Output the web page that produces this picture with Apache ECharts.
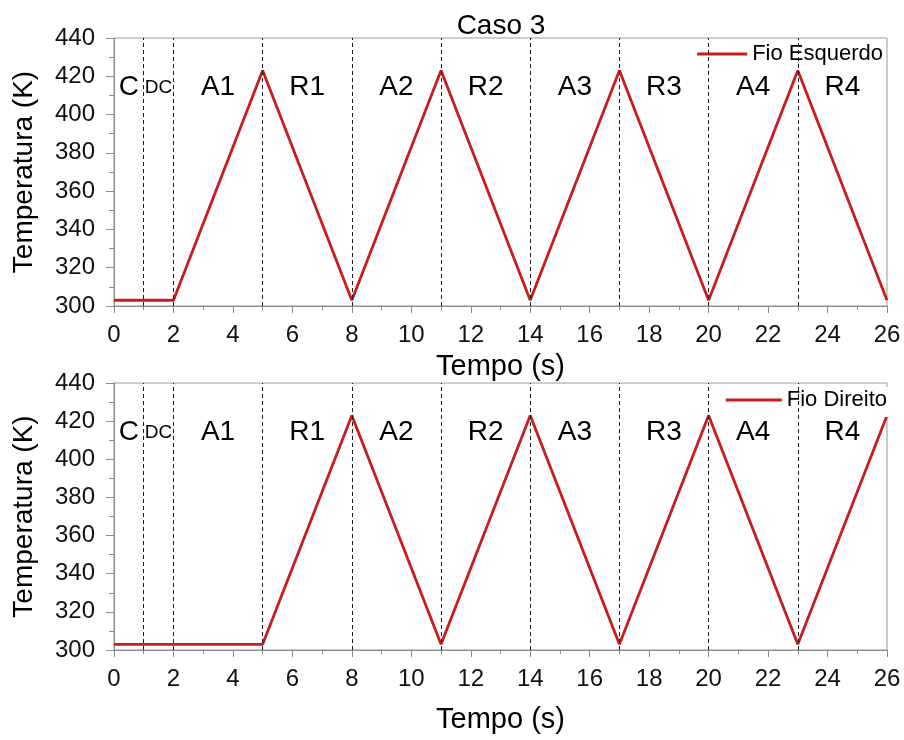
<!DOCTYPE html>
<html>
<head>
<meta charset="utf-8">
<script src="https://cdn.jsdelivr.net/npm/echarts@6/dist/echarts.min.js"></script>
<style>
  html, body { margin: 0; padding: 0; background: #fff; }
  #chart { width: 904px; height: 740px; }
</style>
</head>
<body>
<div id="chart"></div>
<script>
// Wire temperature cycles, case 3 (time in s, temperature in K)
const leftTime  = [0, 2, 5, 8, 11, 14, 17, 20, 23, 26];
const leftTemp  = [303, 303, 423, 303, 423, 303, 423, 303, 423, 303];
const rightTime = [0, 5, 8, 11, 14, 17, 20, 23, 26];
const rightTemp = [303, 303, 423, 303, 423, 303, 423, 303, 423];

// Phase boundaries (dashed verticals) and phase names
const phaseBounds = [1, 2, 5, 8, 11, 14, 17, 20, 23];
const phaseNames  = ['C', 'DC', 'A1', 'R1', 'A2', 'R2', 'A3', 'R3', 'A4', 'R4'];
const phaseMid    = [0.5, 1.5, 3.5, 6.5, 9.5, 12.5, 15.5, 18.5, 21.5, 24.5];
const phaseLabelTemp = 414;

const FONT = '"Liberation Sans", Arial, Helvetica, sans-serif';
const RED = '#c81d1f';
const AXIS_GRAY = '#8c8c8c';

function pairs(xs, ys) { return xs.map((x, i) => [x, ys[i]]); }

function xAxisCfg(gridIndex, nameGap) {
  return {
    type: 'value', gridIndex, min: 0, max: 26, interval: 2,
    name: 'Tempo (s)', nameLocation: 'middle', nameGap,
    nameTextStyle: { fontFamily: FONT, fontSize: 29, color: '#000' },
    axisLine: { show: true, onZero: false, lineStyle: { color: AXIS_GRAY, width: 1 } },
    axisTick: { show: true, inside: false, length: 7, lineStyle: { color: AXIS_GRAY } },
    minorTick: { show: true, splitNumber: 2, length: 4, lineStyle: { color: AXIS_GRAY } },
    axisLabel: { fontFamily: FONT, fontSize: 24, color: '#111', margin: 17 },
    splitLine: { show: false }
  };
}

function yAxisCfg(gridIndex) {
  return {
    type: 'value', gridIndex, min: 300, max: 440, interval: 20,
    name: 'Temperatura (K)', nameLocation: 'middle', nameGap: 76,
    nameTextStyle: { fontFamily: FONT, fontSize: 28, color: '#000' },
    axisLine: { show: true, onZero: false, lineStyle: { color: AXIS_GRAY, width: 1 } },
    axisTick: { show: true, inside: false, length: 8, lineStyle: { color: AXIS_GRAY } },
    minorTick: { show: true, splitNumber: 2, length: 5, lineStyle: { color: AXIS_GRAY } },
    axisLabel: { fontFamily: FONT, fontSize: 24, color: '#111', margin: 19 },
    splitLine: { show: false }
  };
}

function lineSeries(name, idx, data) {
  return {
    name, type: 'line', xAxisIndex: idx, yAxisIndex: idx,
    data, symbol: 'none', lineStyle: { color: RED, width: 2.8 },
    itemStyle: { color: RED },
    markLine: {
      silent: true, symbol: 'none', label: { show: false },
      lineStyle: { color: '#1a1a1a', type: [4, 3], width: 1 },
      data: phaseBounds.map(x => ({ xAxis: x }))
    },
    z: 3
  };
}

// Phase names written at their data positions inside each panel
function phaseLabels(idx) {
  return {
    type: 'custom', xAxisIndex: idx, yAxisIndex: idx, silent: true,
    data: phaseNames.map((n, i) => [phaseMid[i], phaseLabelTemp, n]),
    renderItem: function (params, api) {
      const p = api.coord([api.value(0), api.value(1)]);
      const name = phaseNames[params.dataIndex];
      return {
        type: 'text', x: p[0], y: p[1],
        style: {
          text: name, fill: '#000', align: 'center', verticalAlign: 'middle',
          font: (name === 'DC' ? 19 : 28) + 'px ' + FONT
        }
      };
    },
    z: 4
  };
}

const chart = echarts.init(document.getElementById('chart'), null, { renderer: 'canvas' });
chart.setOption({
  animation: false,
  backgroundColor: '#fff',
  title: {
    text: 'Caso 3', left: 496, top: 7, textAlign: 'center',
    textStyle: { fontFamily: FONT, fontSize: 28, fontWeight: 'normal', color: '#000' }
  },
  legend: [
    {
      data: ['Fio Esquerdo'], right: 19, top: 41, orient: 'horizontal',
      icon: 'rect', itemWidth: 50, itemHeight: 3, itemGap: 4,
      backgroundColor: '#fff', padding: [2, 2, 4, 4],
      textStyle: { fontFamily: FONT, fontSize: 22, color: '#000' }
    },
    {
      data: ['Fio Direito'], right: 16, top: 387, orient: 'horizontal',
      icon: 'rect', itemWidth: 56, itemHeight: 3, itemGap: 6,
      backgroundColor: '#fff', padding: [2, 1, 6, 4],
      textStyle: { fontFamily: FONT, fontSize: 22, color: '#000' }
    }
  ],
  grid: [
    { left: 114, right: 17, top: 38, height: 268, show: true, borderColor: '#9a9a9a', borderWidth: 1, backgroundColor: 'transparent' },
    { left: 114, right: 17, top: 383, height: 267, show: true, borderColor: '#9a9a9a', borderWidth: 1, backgroundColor: 'transparent' }
  ],
  xAxis: [xAxisCfg(0, 46), xAxisCfg(1, 55)],
  yAxis: [yAxisCfg(0), yAxisCfg(1)],
  series: [
    lineSeries('Fio Esquerdo', 0, pairs(leftTime, leftTemp)),
    lineSeries('Fio Direito', 1, pairs(rightTime, rightTemp)),
    phaseLabels(0),
    phaseLabels(1)
  ]
});
</script>
</body>
</html>
